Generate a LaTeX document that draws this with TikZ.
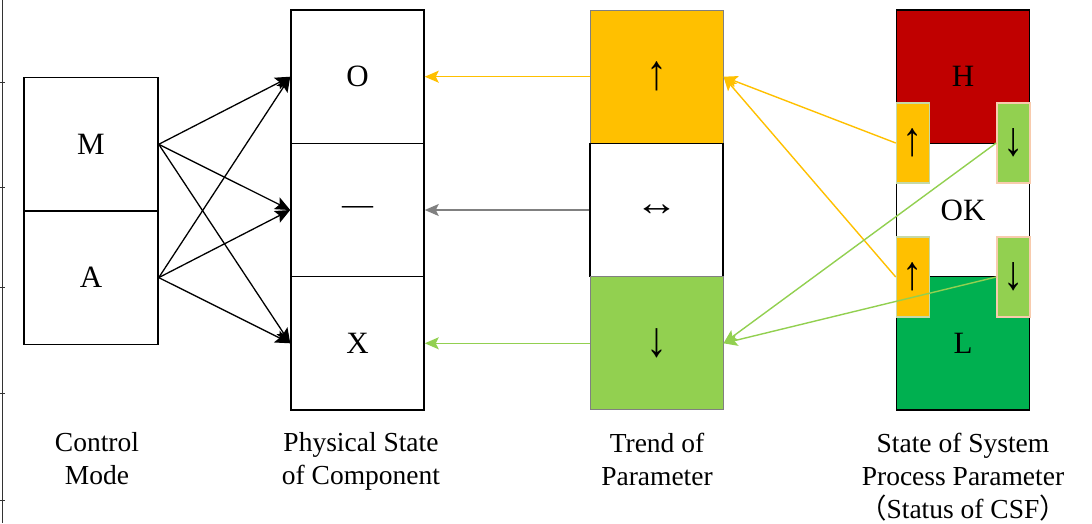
\documentclass[tikz,border=0pt]{standalone}
\usepackage{fontspec}
\setmainfont{Liberation Serif}
\newfontfamily\cjk{Noto Sans CJK SC}
\usetikzlibrary{arrows.meta}
\definecolor{cOrange}{HTML}{FFC000}
\definecolor{cLime}{HTML}{92D050}
\definecolor{cRed}{HTML}{C00000}
\definecolor{cGreen}{HTML}{00B050}
\definecolor{cGrey}{HTML}{808080}
\definecolor{cSage}{HTML}{C5D9A8}
\definecolor{cPeach}{HTML}{F8CBAD}
% tall vertical arrows and a wide double arrow
\newcommand{\vup}{\scalebox{1.35}[1.6]{↑}}
\newcommand{\vdn}{\scalebox{1.35}[1.6]{↓}}
\newcommand{\hlr}{\scalebox{1.4}[1.2]{↔}}

\begin{document}
\begin{tikzpicture}[x=1pt,y=-1pt,
  cell/.style={draw=black, line width=1.5pt, minimum width=133pt, minimum height=133.3pt,
    inner sep=0pt, font=\fontsize{31}{36}\selectfont},
  tag/.style={line width=1.5pt, minimum width=33pt, minimum height=80pt,
    inner sep=0pt, font=\fontsize{30}{36}\selectfont},
  lbl/.style={anchor=north, align=center, inner sep=0pt,
    font=\fontsize{27.5}{33}\selectfont},
  blk/.style={draw=black, line width=1.3pt, -{Stealth[length=15pt,width=13pt,inset=3pt]}},
  col/.style={draw=#1, line width=1.4pt, -{Stealth[length=14pt,width=12pt,inset=3pt]}}
]
\useasboundingbox (0,0) rectangle (1092,523);

% axis remnant along the left edge
\draw[line width=1pt, black!80] (2,0) -- (2,523);
\foreach \t in {82,187,287,393,500} \draw[line width=0.8pt, black!80] (0,\t) -- (5,\t);

% control mode
\node[cell, minimum width=134pt] (M) at (91,144.3) {M};
\node[cell, minimum width=134pt] (A) at (91,277.6) {A};

% physical state of component
\node[cell] (O) at (357.5,76.7) {O};
\node[cell] (D) at (357.5,210) {—};
\node[cell] (X) at (357.5,343.3) {X};

% trend of parameter
\node[cell, fill=cOrange, draw=cGrey, line width=1pt] (tU) at (656.5,76.7) {\vup};
\node[cell] (tM) at (656.5,210) {\hlr};
\node[cell, fill=cLime, draw=cGrey, line width=1pt] (tD) at (656.5,343.3) {\vdn};

% state of system process parameter
\node[cell, fill=cRed, line width=1.2pt] (sH) at (963,76.7) {H};
\node[cell, line width=1.2pt] (sOK) at (963,210) {OK};
\node[cell, fill=cGreen, line width=1.2pt] (sL) at (963,343.3) {L};

% control mode to physical state
\foreach \s in {M,A}
  \foreach \t in {O,D,X}
    \draw[blk] (\s.east) -- (\t.west);

% trend to physical state
\draw[col=cOrange] (tU.west) -- (O.east);
\draw[col=cGrey] (tM.west) -- (D.east);
\draw[col=cLime] (tD.west) -- (X.east);

% trend tags on the state column
\node[tag, fill=cOrange, draw=cSage] (u1) at (913,143) {\vup};
\node[tag, fill=cLime, draw=cPeach] (d1) at (1013.5,143) {\vdn};
\node[tag, fill=cOrange, draw=cSage] (u2) at (913,277) {\vup};
\node[tag, fill=cLime, draw=cPeach] (d2) at (1013.5,277) {\vdn};

% state to trend
\draw[col=cOrange] (u1.west) -- (tU.east);
\draw[col=cOrange] (u2.west) -- (tU.east);
\draw[col=cLime] (d1.west) -- (tD.east);
\draw[col=cLime] (d2.west) -- (tD.east);

% column captions
\node[lbl] (cap1) at (97,432.5) {Control\\Mode};
\node[lbl] (cap2) at (361,432.5) {Physical State\\of Component};
\node[lbl] (cap3) at (657,432.5) {Trend of\\Parameter};
\node[lbl] (cap4) at (963,432.5) {State of System\\Process Parameter\\{\cjk （}Status of CSF{\cjk ）}};
\end{tikzpicture}
\end{document}
